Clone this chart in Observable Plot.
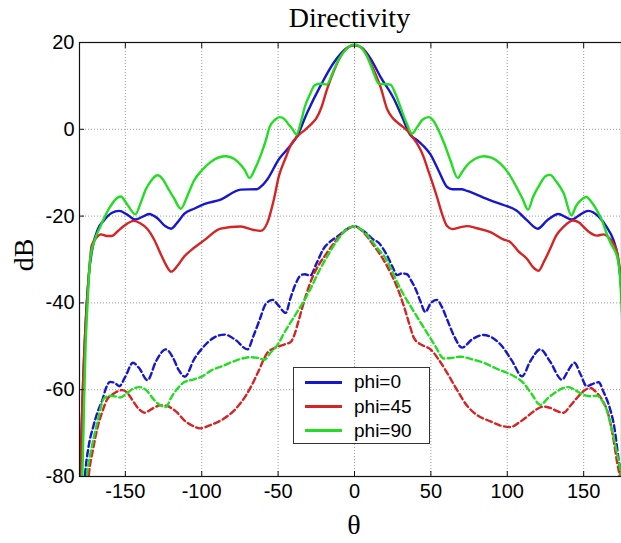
<!DOCTYPE html>
<html>
<head>
<meta charset="utf-8">
<script src="https://cdn.jsdelivr.net/npm/d3@7"></script>
<script src="https://cdn.jsdelivr.net/npm/@observablehq/plot@0.6"></script>
<style>
  html, body { margin: 0; padding: 0; background: #fff; }
  #wrap { position: relative; width: 621px; height: 543px; overflow: hidden; }
  #chart { position: absolute; left: 0; top: 0; }
  #title { position: absolute; left: 78px; top: 0; width: 543px; height: 36px; line-height: 36px;
           font-family: "Liberation Serif", serif; font-size: 28px; text-align: center; color: #000; }
  .lbl { position: absolute; font-family: "Liberation Serif", serif; font-size: 28px; color: #000; }
  #ylab { left: 24px; top: 255px; transform: translate(-50%, -50%) rotate(-90deg); }
  #xlab { left: 354px; top: 525px; transform: translate(-50%, -50%); }
  #legend { position: absolute; left: 293px; top: 367px; width: 137px; height: 77px; background: #fff;
            border: 1px solid #333; box-sizing: border-box; font-family: "Liberation Sans", Arial, sans-serif; font-size: 19px; }
  .row { position: absolute; left: 0; height: 24px; display: flex; align-items: center; }
  .sw { width: 37px; height: 3px; margin-left: 11px; margin-right: 12px; }
</style>
</head>
<body>
<div id="wrap">
  <div id="chart"></div>
  <div id="title">Directivity</div>
  <div class="lbl" id="ylab">dB</div>
  <div class="lbl" id="xlab">θ</div>
  <div id="legend"></div>
</div>
<script>
// ---- data: [theta (deg), dB] ----
const seriesNames = ["phi=0", "phi=45", "phi=90"];
const seriesColors = ["#1717cc", "#d42424", "#22dd22"];
const xTicks = [-150, -100, -50, 0, 50, 100, 150];
const yTicks = [-80, -60, -40, -20, 0, 20];

// solid curves
const phi0Solid = [[-179.5,-80],[-178,-62],[-176,-45],[-174,-34],[-171,-26.5],[-168,-23],[-164,-21],[-159,-19.3],[-154,-18.8],[-149,-19.6],[-143.5,-20.8],[-139,-20.2],[-134.5,-19.5],[-129,-20.5],[-124,-22.3],[-120,-22.9],[-116,-21.5],[-111.5,-19.5],[-105,-18.3],[-98,-17.2],[-87.6,-16.2],[-74.5,-13.9],[-64,-13.8],[-60,-12.8],[-57,-11.5],[-49.5,-6.9],[-43,-4.2],[-37.5,-1.5],[-31,3.8],[-22.3,10],[-13.5,15.4],[-4.8,18.8],[0,19.4],[4.8,18.8],[10.5,16.3],[17,12.1],[25.7,7.1],[31,3],[36.6,-1.3],[41,-2.5],[45,-3.8],[49.7,-5.8],[55,-9.5],[60.6,-13.3],[64,-13.8],[70,-13.8],[73.7,-14.2],[89,-16.4],[98,-17.5],[106,-18.7],[113,-21],[120,-22.9],[126,-21],[133.6,-19.5],[138,-20.2],[142,-20.8],[148,-19.6],[153,-18.8],[160,-20.2],[165,-22.5],[169.6,-25.6],[172,-28.7],[174,-34],[176,-45],[178,-62],[179.5,-80]];
const phi45Solid = [[-179.5,-80],[-178,-62],[-176,-45],[-174,-34],[-172,-26.8],[-169,-25],[-166,-24.2],[-162,-24.6],[-159,-24.6],[-155,-23.5],[-151,-22.3],[-144.5,-21.1],[-140,-21.7],[-135.7,-22.9],[-131,-25.5],[-127,-28.6],[-123,-31.5],[-120,-32.8],[-116,-31.5],[-111.7,-29.4],[-105,-27.3],[-98.5,-25.6],[-87.6,-22.9],[-74.6,-22.4],[-66,-23.2],[-61.5,-23.4],[-57,-21.5],[-53,-16.5],[-49.5,-10.8],[-45,-6.5],[-41.9,-3.8],[-37,-1.5],[-33,-0.3],[-28,1.3],[-25,2.5],[-21.5,5.2],[-18,9.2],[-14,13],[-10,16.2],[-5,18.7],[0,19.4],[5,18.7],[10.5,15.3],[14,12.5],[17,9.8],[21.4,4.6],[25,2.6],[28,1.6],[32,0.5],[35.5,-0.6],[38.8,-2.2],[41,-3.3],[45.3,-6.4],[47.5,-8.7],[51.9,-13.3],[54,-15.6],[57.3,-19.5],[60.6,-22.3],[64,-23],[69,-22.6],[73.7,-22.3],[80,-22.8],[89,-23.7],[97,-25.3],[102,-26],[107,-28],[113,-29.9],[117,-31.8],[120.5,-32.6],[124,-30.5],[128,-27.6],[132,-24.5],[137,-22.4],[143,-21],[147,-21.5],[150,-22.5],[154,-23.8],[158.7,-24.5],[163,-24.2],[166,-24.8],[169.6,-26.4],[172,-28.5],[174,-34],[176,-45],[178,-62],[179.5,-80]];
const phi90Solid = [[-179.5,-85],[-178,-78],[-177,-63],[-176,-50],[-175,-42],[-174,-35],[-173,-30],[-170,-25.5],[-166.5,-22.5],[-163,-19.8],[-160,-17.9],[-156,-16],[-153,-15.5],[-149,-17.2],[-143.4,-19.6],[-140,-17],[-136.8,-14],[-133,-11.8],[-129,-10.6],[-125.5,-11.5],[-122.5,-13.3],[-118,-16],[-113.7,-18.3],[-109,-15],[-105,-11.8],[-100,-9.5],[-94,-7.5],[-89,-6.5],[-84,-6.2],[-80,-6.6],[-76.4,-7.5],[-72,-9.3],[-68.7,-11.2],[-65,-9],[-61,-5.6],[-58,-2.5],[-55.6,0.5],[-52,2.2],[-49,2.8],[-46,2.4],[-43.5,1.3],[-40.5,0],[-38,-1.2],[-35,1.8],[-32.5,5.2],[-29,8.2],[-26,10.2],[-22,10.5],[-18.2,10.3],[-14,13.3],[-10.5,16],[-6,18.2],[-3,19.2],[0,19.5],[3,19.2],[8.3,16.7],[12,13.5],[16,10.5],[20,10.4],[23.5,10.3],[27,8],[30,5.2],[34,1.5],[37.7,-1],[41,0.5],[44.5,2.2],[48.6,2.8],[52,1.8],[55,-0.2],[59,-3.5],[62.8,-7.2],[67.6,-11.2],[70.5,-9.8],[73.7,-8.3],[79,-6.8],[84.6,-6.2],[90,-6.6],[95.5,-7.9],[101,-10.2],[106,-13.3],[110,-16],[113.6,-18.5],[117,-15.5],[121.6,-12.5],[125,-10.8],[128,-10.5],[132,-12],[137,-14.8],[142,-19.8],[145,-17.7],[148,-16.4],[151.7,-15.6],[155,-16.7],[158.7,-18.7],[162,-21],[165,-24],[168,-26.5],[172,-29.5],[174,-35],[175,-42],[176,-50],[177,-63],[178,-78],[179.5,-85]];

// dashed curves
const phi0Dash = [[-179,-95],[-176.3,-79.3],[-174,-73],[-171,-68.5],[-168,-65],[-165,-62.3],[-162.5,-59.5],[-160,-58.2],[-157,-58.4],[-154,-59.2],[-150,-57],[-145,-53.8],[-141,-55],[-135.5,-57.8],[-130,-53.5],[-123.5,-50.7],[-119,-52.5],[-115,-55.5],[-111,-57],[-105,-53],[-98.5,-50],[-92,-48],[-85,-47.3],[-78,-48.5],[-70,-50.7],[-66,-47.5],[-62,-43.8],[-58,-40.2],[-53.5,-39.3],[-50,-40.5],[-45,-42.3],[-42,-39],[-39,-36],[-35,-33.6],[-32.5,-33.4],[-29,-33.7],[-25,-31],[-20.4,-27.6],[-16,-25.9],[-10.5,-24.5],[-5,-23],[0,-22.3],[5,-23.2],[8.3,-24.1],[12,-25.3],[16,-26.2],[18.5,-27.4],[21.4,-29.1],[25,-31.8],[28,-33.6],[31,-33.2],[34.4,-33.4],[37,-34.8],[40,-36.8],[43,-39.5],[46.4,-42.1],[50,-40],[54,-39.3],[57,-40.8],[60.6,-43.8],[65,-47.5],[70.4,-50.3],[77,-48.4],[84.6,-47.4],[91,-48.2],[96.6,-50],[103,-53.3],[109.7,-56.9],[115,-53.5],[121.6,-50.7],[128,-53.5],[135.8,-57.7],[140,-55.5],[143.9,-53.8],[148,-56.5],[152,-59.2],[155,-58.8],[159.8,-58.3],[163,-60.5],[167.4,-64.6],[170,-68.5],[172.9,-76.2],[174.4,-80],[177,-95]];
const phi45Dash = [[-177,-95],[-174,-80],[-171,-73.5],[-168.6,-69.3],[-165,-65],[-162,-62.3],[-158,-61],[-152,-60.1],[-148,-61],[-145.6,-62.3],[-141,-64.5],[-137.5,-65.3],[-132,-64.3],[-127,-63.6],[-123,-63.7],[-120,-64.2],[-116,-65.3],[-111.6,-67],[-106,-68.3],[-101,-68.9],[-94,-68.1],[-85.2,-66.6],[-78,-64.5],[-71,-61.3],[-67,-58.8],[-63.3,-56.1],[-57,-51.5],[-52.3,-50.4],[-46,-49.6],[-41.5,-48.9],[-39,-47],[-37,-44.6],[-32,-38.5],[-28,-34.5],[-23,-31],[-19.3,-29.1],[-14,-26.5],[-8.3,-24.1],[-4,-22.9],[0,-22.3],[6,-23.8],[12.6,-26.8],[18,-29.5],[23.5,-33],[28,-36.5],[32.3,-40.7],[36,-45],[38.8,-48],[43,-49.5],[46,-50],[49.7,-50.7],[55,-53],[60.6,-56.1],[67,-60],[73.7,-63.7],[80,-65.8],[89,-67.3],[95,-68.2],[102,-68.6],[108,-67.5],[113,-66.2],[118,-64.8],[123.8,-63.9],[129,-64.3],[133,-65],[137,-65.3],[141,-63.8],[145.6,-61.9],[150,-60.3],[154.3,-59.6],[158,-60.5],[162,-62.3],[166,-65.5],[169.6,-71.6],[172,-77],[173.5,-80],[176,-95]];
const phi90Dash = [[-178,-95],[-175,-79.3],[-173,-75],[-171,-71.6],[-168,-67],[-164,-62],[-160,-61.4],[-156,-61.6],[-153.3,-61.8],[-149,-60.8],[-145,-59.8],[-141,-59.4],[-136,-60.2],[-131.3,-62.3],[-127,-63.6],[-123.5,-64],[-120,-61.8],[-116,-59.8],[-111.6,-58.3],[-105,-57.6],[-100,-57],[-94,-55.6],[-86,-54.5],[-78.6,-53.4],[-72,-52.7],[-68,-52.5],[-63,-52.7],[-59,-53.1],[-55,-51.5],[-50,-49.5],[-46,-46.9],[-41.3,-44.2],[-37,-41.8],[-32.5,-39.2],[-28,-36.2],[-23.7,-33],[-19,-30],[-15,-27.6],[-10,-25],[-6,-23.3],[0,-22.3],[5,-23.3],[10.5,-25.3],[15,-27.4],[19.2,-29.1],[23.5,-31.8],[28,-35.3],[32,-38],[36.6,-40.7],[42,-43.8],[47.5,-46.9],[53,-50],[58.4,-52.8],[63,-52.7],[69.3,-52.4],[77,-53],[84.6,-53.8],[92,-55],[99.8,-56.1],[105,-57],[110.7,-58.5],[116,-61],[121.6,-63.5],[127,-61.8],[132.5,-60.4],[136,-59.7],[140,-59.4],[145,-60.2],[150,-61.2],[154,-61.5],[158.7,-61.4],[162,-62.5],[165,-64.6],[168,-68.5],[171.8,-74.7],[174.4,-80],[177,-95]];

const solidSets = [phi0Solid, phi45Solid, phi90Solid];
const dashSets = [phi0Dash, phi45Dash, phi90Dash];

const toRows = (pts, i) => pts.map(([t, v]) => ({theta: t, db: v, series: seriesNames[i]}));
const fmt = d => String(d);

const lineMarks = [];
solidSets.forEach((pts, i) => lineMarks.push(
  Plot.line(toRows(pts, i), {x: "theta", y: "db", stroke: seriesColors[i], strokeWidth: 2.4, curve: "monotone-x", clip: true})
));
dashSets.forEach((pts, i) => lineMarks.push(
  Plot.line(toRows(pts, i), {x: "theta", y: "db", stroke: seriesColors[i], strokeWidth: 2.4, strokeDasharray: "6,3.5", curve: "monotone-x", clip: true})
));

const gridStyle = {stroke: "#8a8a8a", strokeOpacity: 0.85, strokeWidth: 1, strokeDasharray: "1,2"};

const chart = Plot.plot({
  width: 621,
  height: 543,
  marginTop: 42,
  marginBottom: 67,
  marginLeft: 79,
  marginRight: 0,
  style: {background: "#fff", overflow: "hidden"},
  x: {domain: [-180, 180], range: [79, 629]},
  y: {domain: [-80, 20]},
  marks: [
    Plot.gridX(xTicks, gridStyle),
    Plot.gridY(yTicks.slice(1, -1), gridStyle),
    ...lineMarks,
    Plot.frame({stroke: "#111", strokeWidth: 1.2}),
    Plot.axisX(xTicks, {anchor: "bottom", tickSize: 0, tickPadding: 7, tickFormat: fmt, fontSize: 20, fontFamily: "Liberation Sans, Arial, sans-serif", fill: "#000", label: null}),
    Plot.axisX(xTicks, {anchor: "bottom", tickSize: -5, tickFormat: () => "", label: null, stroke: "#111"}),
    Plot.axisX(xTicks, {anchor: "top", tickSize: -5, tickFormat: () => "", label: null, stroke: "#111"}),
    Plot.axisY(yTicks, {anchor: "left", tickSize: 0, tickPadding: 5, tickFormat: fmt, fontSize: 20, fontFamily: "Liberation Sans, Arial, sans-serif", fill: "#000", label: null}),
    Plot.axisY(yTicks, {anchor: "left", tickSize: -5, tickFormat: () => "", label: null, stroke: "#111"})
  ]
});
document.getElementById("chart").appendChild(chart);

// legend
const legend = document.getElementById("legend");
const rowTops = [2, 26.5, 50.5];
seriesNames.forEach((name, i) => {
  const row = document.createElement("div");
  row.className = "row";
  row.style.top = rowTops[i] + "px";
  const sw = document.createElement("div");
  sw.className = "sw";
  sw.style.background = seriesColors[i];
  const tx = document.createElement("span");
  tx.textContent = name;
  row.appendChild(sw);
  row.appendChild(tx);
  legend.appendChild(row);
});
</script>
</body>
</html>
